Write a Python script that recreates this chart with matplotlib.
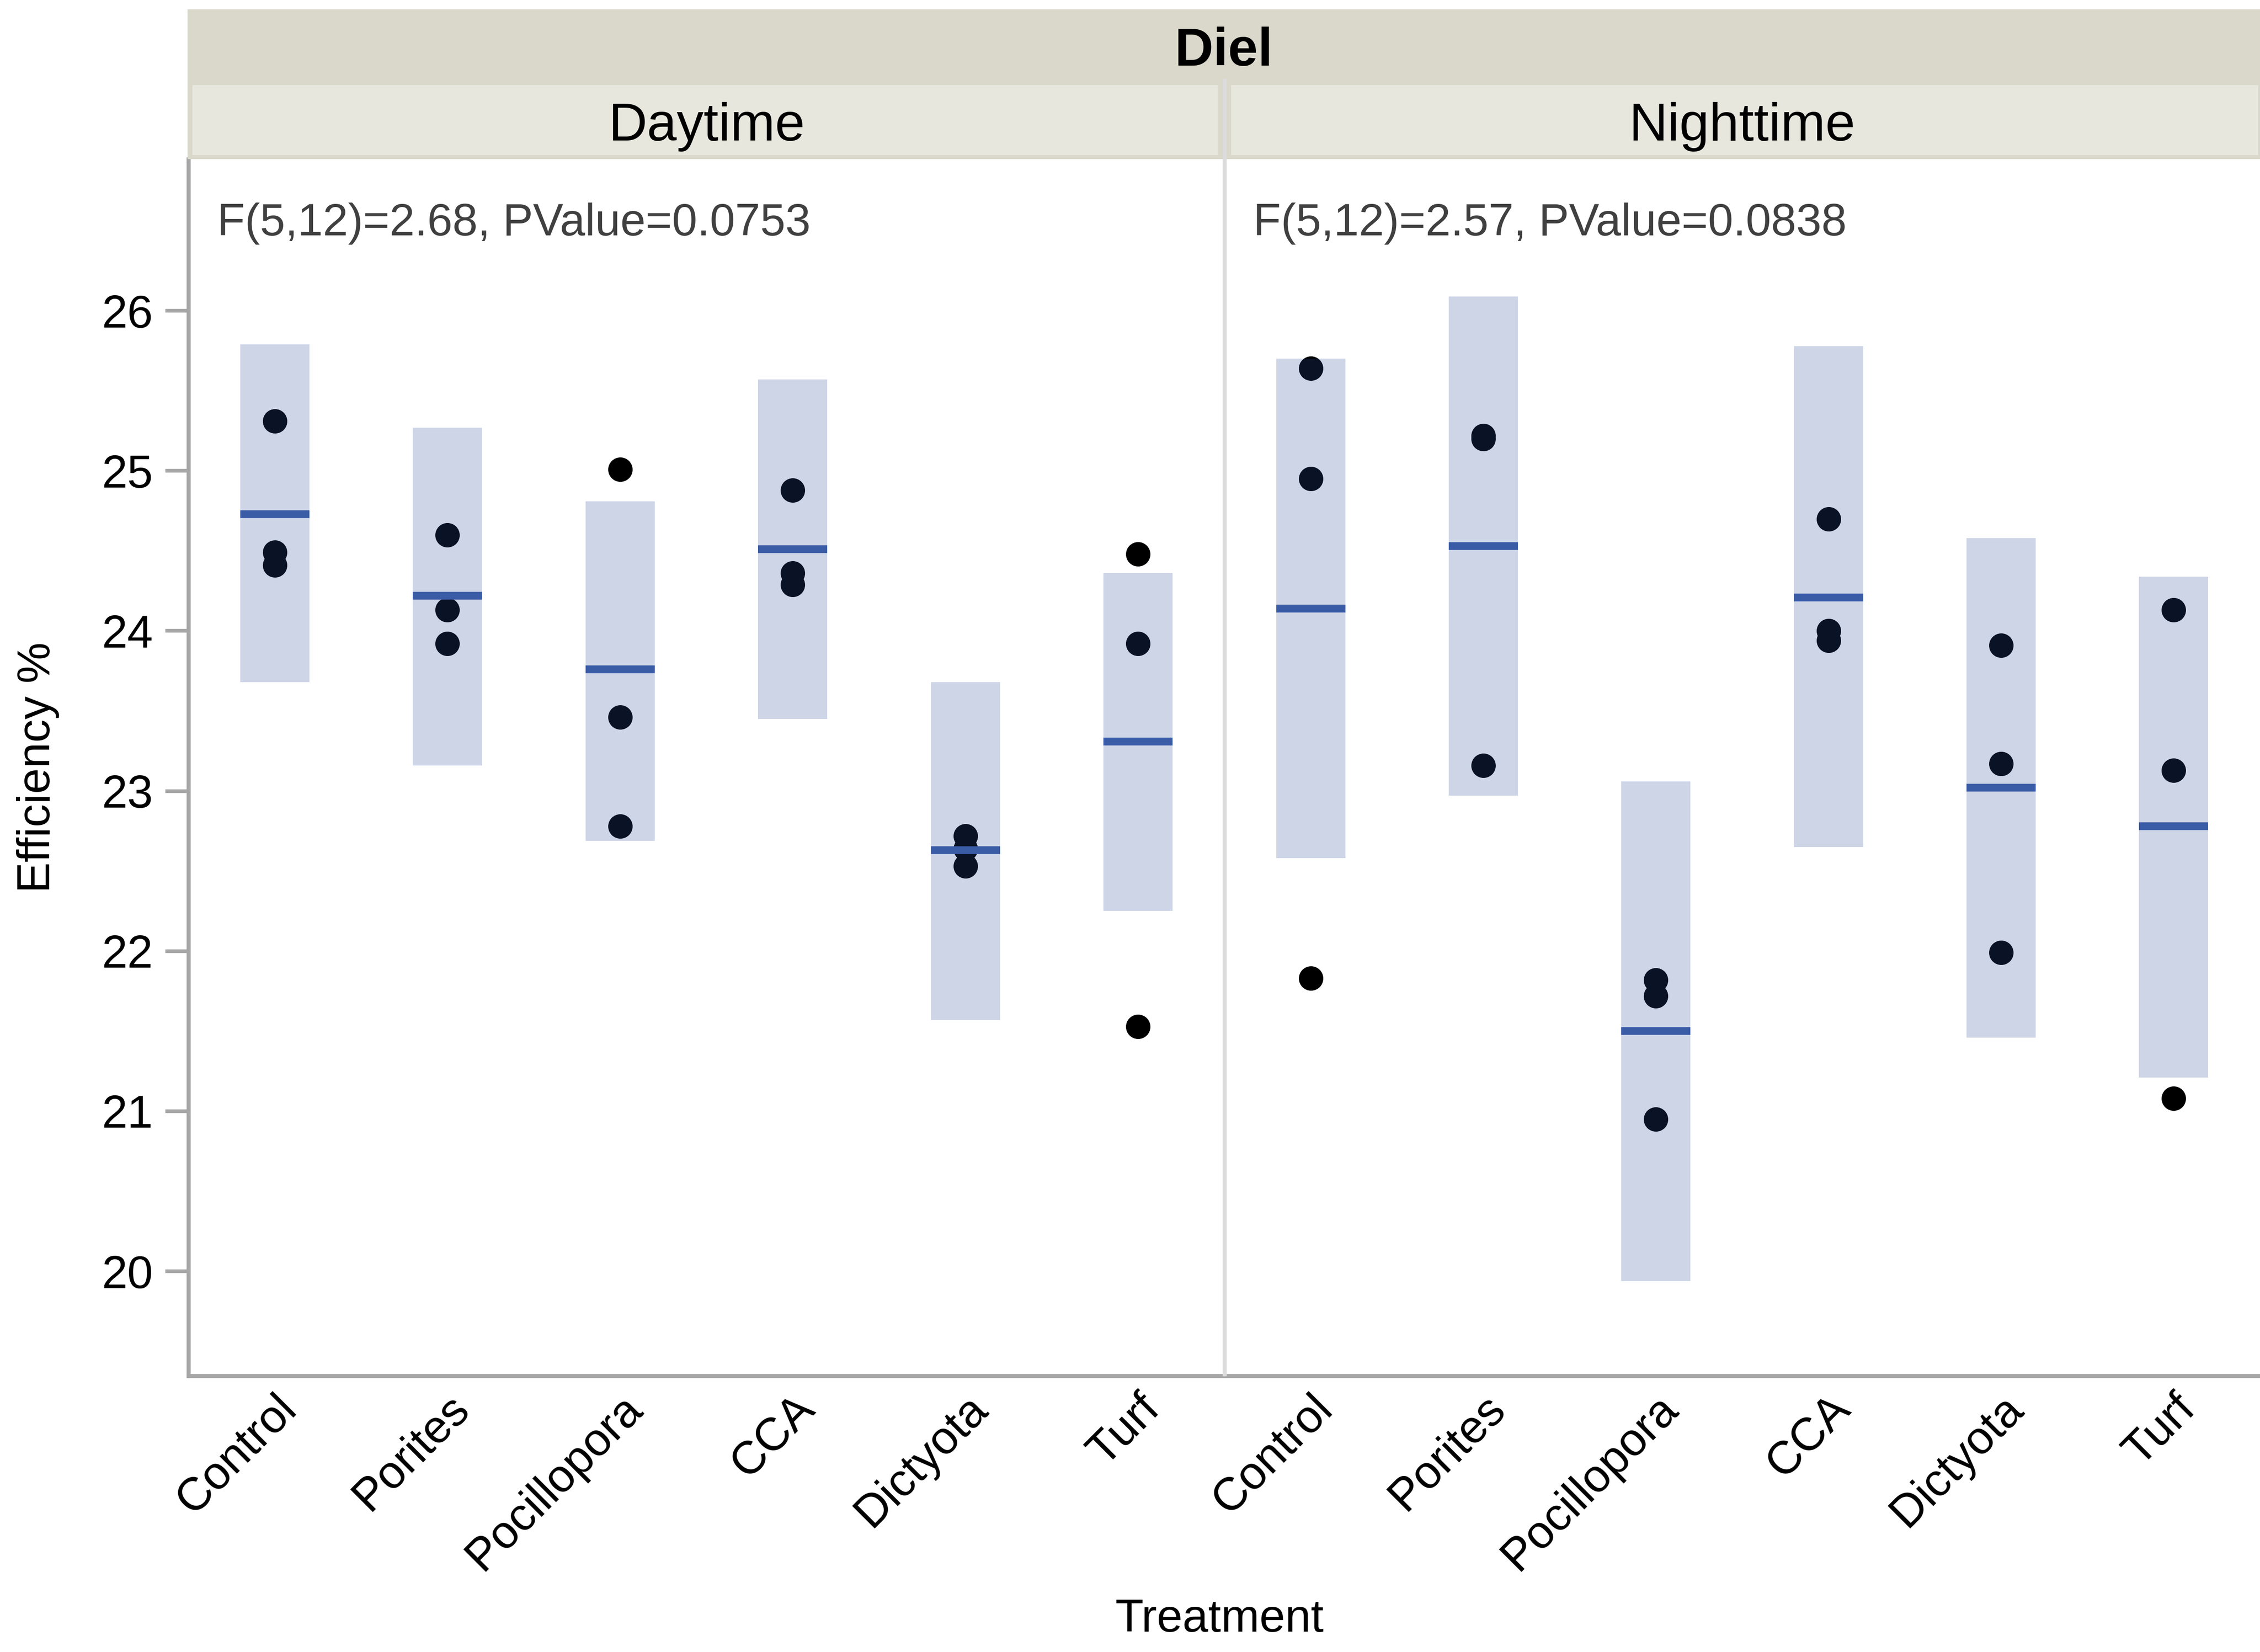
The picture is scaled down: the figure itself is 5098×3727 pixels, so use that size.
import matplotlib.pyplot as plt
from matplotlib.patches import Rectangle
from matplotlib.lines import Line2D

plt.rcParams['font.family'] = ['Liberation Sans', 'DejaVu Sans']

treatments = ["Control", "Porites", "Pocillopora", "CCA", "Dictyota", "Turf"]

# daytime
day_points = [[25.31, 24.49, 24.41],
              [24.60, 24.13, 23.92],
              [25.01, 23.46, 22.78],
              [24.88, 24.36, 24.29],
              [22.72, 22.64, 22.53],
              [24.48, 23.92, 21.53]]
day_means = [24.73, 24.22, 23.76, 24.51, 22.63, 23.31]
day_lower = [23.68, 23.16, 22.69, 23.45, 21.57, 22.25]
day_upper = [25.79, 25.27, 24.81, 25.57, 23.68, 24.36]

# nighttime
night_points = [[25.64, 24.95, 21.83],
                [25.22, 25.20, 23.16],
                [21.82, 21.72, 20.95],
                [24.70, 24.00, 23.94],
                [23.91, 23.17, 21.99],
                [24.13, 23.13, 21.08]]
night_means = [24.14, 24.53, 21.50, 24.21, 23.02, 22.78]
night_lower = [22.58, 22.97, 19.94, 22.65, 21.46, 21.21]
night_upper = [25.70, 26.09, 23.06, 25.78, 24.58, 24.34]

panels = ["Daytime", "Nighttime"]
stats = ["F(5,12)=2.68, PValue=0.0753", "F(5,12)=2.57, PValue=0.0838"]

W, H = 5098, 3727
fig = plt.figure(figsize=(W / 300, H / 300), dpi=300)


def fx(x):
    return x / W


def fy(y):
    return 1 - y / H


grey = '#a6a6a6'
left, right, mid, top, bottom = 425, 5098, 2762, 359, 3104

# strips
fig.add_artist(Rectangle((fx(423), fy(359)), fx(W) - fx(423), fy(21) - fy(359),
                         transform=fig.transFigure, color='#dad8ca', lw=0))
fig.add_artist(Rectangle((fx(434), fy(350)), fx(2748 - 434), fy(192) - fy(350),
                         transform=fig.transFigure, color='#e7e7de', lw=0))
fig.add_artist(Rectangle((fx(2777), fy(350)), fx(5094 - 2777), fy(192) - fy(350),
                         transform=fig.transFigure, color='#e7e7de', lw=0))
fig.text(fx((423 + W) / 2), fy(148), "Diel", ha='center', va='baseline',
         fontsize=29, fontweight='bold')
fig.text(fx((left + mid) / 2), fy(317), panels[0], ha='center', va='baseline', fontsize=29)
fig.text(fx((mid + right) / 2), fy(317), panels[1], ha='center', va='baseline', fontsize=29)

data = [(day_points, day_means, day_lower, day_upper),
        (night_points, night_means, night_lower, night_upper)]
xs = [(left, mid), (mid, right)]

axes = []
for k, (pts, means, lo, hi) in enumerate(data):
    x0, x1 = xs[k]
    ax = fig.add_axes([fx(x0), fy(bottom), fx(x1 - x0), fy(top) - fy(bottom)])
    axes.append(ax)
    for i in range(len(treatments)):
        ax.scatter([i] * len(pts[i]), pts[i], s=175, color='black', linewidths=0, zorder=2)
    heights = [h - l for h, l in zip(hi, lo)]
    ax.bar(range(len(treatments)), heights, bottom=lo, width=0.4,
           color='#2e539e', alpha=0.24, lw=0, zorder=3)
    ax.hlines(means, [i - 0.2 for i in range(6)], [i + 0.2 for i in range(6)],
              color='#3a5ba6', lw=4.2, zorder=4)
    ax.set_xlim(-0.5, 5.5)
    ax.set_ylim(19.347, 26.947)
    ax.set_xticks(range(len(treatments)))
    ax.set_xticklabels(treatments, rotation=45, ha='right', va='top',
                       rotation_mode='anchor', fontsize=25)
    ax.tick_params(axis='x', length=0, pad=6)
    for s in ['top', 'right', 'left']:
        ax.spines[s].set_visible(False)
    ax.spines['bottom'].set_color(grey)
    ax.spines['bottom'].set_linewidth(2.2)
    ax.text(0.028, 0.947, stats[k], transform=ax.transAxes, ha='left', va='center',
            fontsize=24.5, color='#404040')
    if k == 0:
        ax.spines['left'].set_visible(True)
        ax.spines['left'].set_color(grey)
        ax.spines['left'].set_linewidth(2.2)
        ax.set_yticks(range(20, 27))
        ax.tick_params(axis='y', length=12.5, width=2, color=grey, labelsize=25, pad=6.5)
    else:
        ax.set_yticks([])

# divider
fig.add_artist(Line2D([fx(mid), fx(mid)], [fy(182), fy(bottom - 4)],
                      transform=fig.transFigure, color='#dcdcdc', lw=2.2))

fig.text(fx(85), fy(1731), "Efficiency %", rotation=90, ha='center', va='center', fontsize=25)
fig.text(fx(2751), fy(3681), "Treatment", ha='center', va='baseline', fontsize=25)

fig.savefig('out.png', dpi=300)
